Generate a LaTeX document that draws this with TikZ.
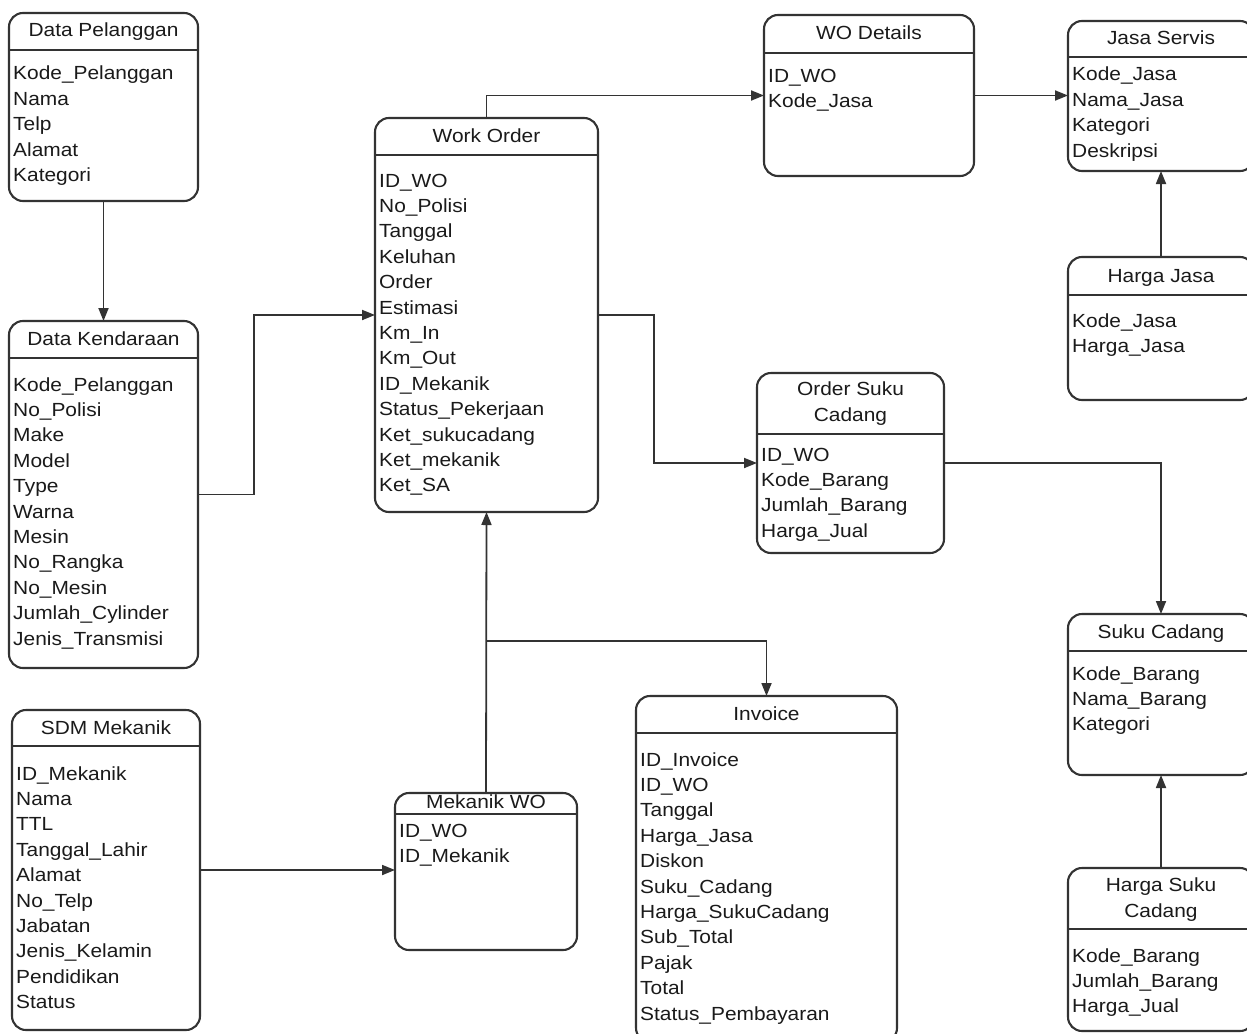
\documentclass[tikz,border=0pt]{standalone}
\usepackage{fontspec}
\setmainfont{Liberation Sans}
\newfontfamily\erdfont[FakeStretch=1.1]{Liberation Sans}
\usetikzlibrary{arrows.meta,calc}

\definecolor{linegray}{HTML}{333333}
\definecolor{textgray}{HTML}{1A1A1A}

\tikzset{
  erbox/.style={draw=linegray, line width=2.1pt, rounded corners=14pt,
    anchor=north west, inner sep=0pt, outer sep=0pt},
  erhead/.style={draw=linegray, line width=2.8pt},
  ertitle/.style={text=textgray, inner sep=0pt, align=center,
    font=\erdfont\fontsize{19}{25.4}\selectfont},
  erfield/.style={text=textgray, inner sep=0pt, anchor=base west,
    font=\erdfont\fontsize{19}{25.4}\selectfont},
  conn/.style={draw=linegray, line width=1.8pt,
    -{Triangle[length=13pt,width=10pt]}}
}

% entity box: id, x1, y1, x2, y2, header line y, title, title y, title anchor
\newcommand{\erentity}[9]{%
  \node[erbox, minimum width={(#4-#2)*1pt}, minimum height={(#5-#3)*1pt}] (#1) at (#2,#3) {};
  \draw[erhead] (#2,#6) -- (#4,#6);
  \node[ertitle, anchor=#9] (#1-title) at ({(#2+#4)/2},#8) {#7};
}
% attribute list: id, x, centre y of first line, attributes
\newcommand{\erfields}[4]{%
  \foreach \f [count=\i] in {#4}
    \node[erfield] (#1-f\i) at (#2,{#3+7+(\i-1)*25.4}) {\f};
}

\begin{document}
\begin{tikzpicture}[x=1pt,y=-1pt]
\useasboundingbox (0,0) rectangle (1247,1033);
\clip (0,0) rectangle (1247,1033);
\fill[white] (0,0) rectangle (1247,1033);

% customers and vehicles
\erentity{dp}{9}{13}{198}{201}{50}{Data Pelanggan}{37}{base}
\erfields{dp}{13}{73}{Kode\_Pelanggan, Nama, Telp, Alamat, Kategori}

\erentity{dk}{9}{321}{198}{668}{358}{Data Kendaraan}{345}{base}
\erfields{dk}{13}{384}{Kode\_Pelanggan, No\_Polisi, Make, Model, Type, Warna, Mesin, No\_Rangka, No\_Mesin, Jumlah\_Cylinder, Jenis\_Transmisi}

% mechanics
\erentity{sdm}{12}{710}{200}{1030}{746}{SDM Mekanik}{734}{base}
\erfields{sdm}{16}{773}{ID\_Mekanik, Nama, TTL, Tanggal\_Lahir, Alamat, No\_Telp, Jabatan, Jenis\_Kelamin, Pendidikan, Status}

\erentity{mwo}{395}{793}{577}{950}{814}{Mekanik WO}{808}{base}
\erfields{mwo}{399}{830}{ID\_WO, ID\_Mekanik}

% work order
\erentity{wo}{375}{118}{598}{512}{155}{Work Order}{142}{base}
\erfields{wo}{379}{180}{ID\_WO, No\_Polisi, Tanggal, Keluhan, Order, Estimasi, Km\_In, Km\_Out, ID\_Mekanik, Status\_Pekerjaan, Ket\_sukucadang, Ket\_mekanik, Ket\_SA}

\erentity{wod}{764}{15}{974}{176}{53}{WO Details}{40}{base}
\erfields{wod}{768}{75}{ID\_WO, Kode\_Jasa}

% services
\erentity{js}{1068}{21}{1254}{171}{57}{Jasa Servis}{45}{base}
\erfields{js}{1072}{74}{Kode\_Jasa, Nama\_Jasa, Kategori, Deskripsi}

\erentity{hj}{1068}{257}{1254}{400}{295}{Harga Jasa}{282}{base}
\erfields{hj}{1072}{320}{Kode\_Jasa, Harga\_Jasa}

% spare parts
\erentity{osc}{757}{373}{944}{553}{434}{Order Suku\\Cadang}{403.5}{center}
\erfields{osc}{761}{454}{ID\_WO, Kode\_Barang, Jumlah\_Barang, Harga\_Jual}

\erentity{sc}{1068}{614}{1254}{775}{651}{Suku Cadang}{638}{base}
\erfields{sc}{1072}{673}{Kode\_Barang, Nama\_Barang, Kategori}

\erentity{hsc}{1068}{868}{1254}{1031}{929}{Harga Suku\\Cadang}{899.5}{center}
\erfields{hsc}{1072}{955}{Kode\_Barang, Jumlah\_Barang, Harga\_Jual}

% invoice
\erentity{inv}{636}{696}{897}{1042}{733}{Invoice}{720}{base}
\erfields{inv}{640}{759}{ID\_Invoice, ID\_WO, Tanggal, Harga\_Jasa, Diskon, Suku\_Cadang, Harga\_SukuCadang, Sub\_Total, Pajak, Total, Status\_Pembayaran}

% relationships
\draw[conn] (dp.south) -- (dk.north);
\draw[conn] (dk.east) -- ++(56,0) |- (wo.west);
\draw[conn] (wo.north) |- (wod.west);
\draw[conn] (wod.east) -- (js.west |- wod.east);
\draw[conn] (hj.north) -- (js.south);
\draw[conn] (wo.east) -- ++(56,0) |- (osc.west);
\draw[conn] (osc.east) -| (sc.north);
\draw[conn] (hsc.north) -- (sc.south);
\draw[conn] (mwo.north) -- (wo.south);
\coordinate (split) at ($(mwo.north)+(0,-152)$);
\draw[conn] (split) -| (inv.north);
\draw[conn] (sdm.east) -- (mwo.west |- sdm.east);
\end{tikzpicture}
\end{document}
